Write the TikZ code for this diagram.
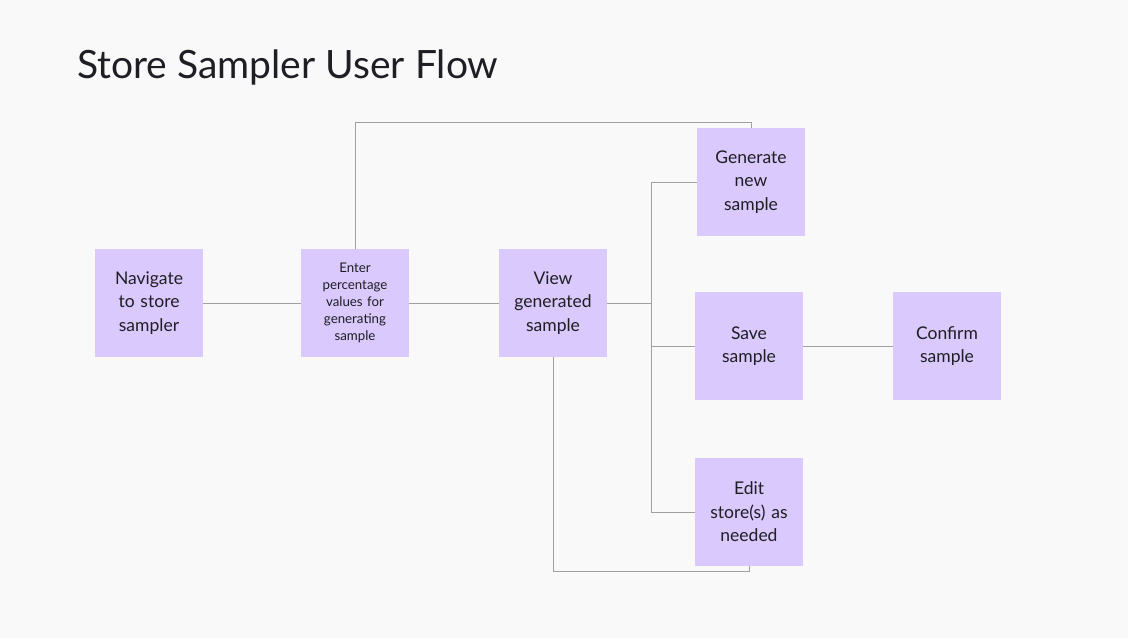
\documentclass[tikz,border=0pt]{standalone}
\usepackage{fontspec}
\setmainfont{Lato}
\definecolor{bgcol}{HTML}{F9F9F9}
\definecolor{boxcol}{HTML}{D9C9FC}
\definecolor{linecol}{HTML}{A0A0A0}
\definecolor{txtcol}{HTML}{1E1E24}

\begin{document}
\begin{tikzpicture}[x=1pt, y=-1pt,
    stepbox/.style={fill=boxcol, minimum width=108pt, minimum height=108pt,
        text width=100pt, align=center, inner sep=0pt, text=txtcol,
        font=\fontsize{17.5}{23.5}\selectfont},
    link/.style={draw=linecol, line width=1pt}]
        % Page and background
        \fill[bgcol] (0,0) rectangle (1128,638);
        \useasboundingbox (0,0) rectangle (1128,638);

        % Title
        \node[anchor=base west, inner sep=0pt, text=txtcol,
            font=\fontsize{39}{42}\selectfont] (title) at (77,78) {Store Sampler User Flow};

        % The steps
        \node[stepbox] (nav) at (149,303) {Navigate\\to store\\sampler};
        \node[stepbox, font=\fontsize{13.3}{17}\selectfont] (enter) at (355,303)
            {Enter\\percentage\\values for\\generating\\sample};
        \node[stepbox] (view) at (553,303) {View\\generated\\sample};
        \node[stepbox] (gen) at (751,182) {Generate\\new\\sample};
        \node[stepbox] (save) at (749,346) {Save\\sample};
        \node[stepbox] (confirm) at (947,346) {Confirm\\sample};
        \node[stepbox] (edit) at (749,512) {Edit\\store(s) as\\needed};

        % Branch point right of the view step
        \coordinate (split) at (651,303);

        % Draw the connectors
        \draw[link] (nav.east) -- (enter.west);
        \draw[link] (enter.east) -- (view.west);
        \draw[link] (view.east) -- (split);
        \draw[link] (split |- gen.west) -- (split |- edit.west);
        \draw[link] (split |- gen.west) -- (gen.west);
        \draw[link] (split |- save.west) -- (save.west);
        \draw[link] (split |- edit.west) -- (edit.west);
        \draw[link] (save.east) -- (confirm.west);

        % Loops back from the enter and view steps
        \draw[link] (enter.north) |- ([yshift=5pt]gen.north) -- (gen.north);
        \draw[link] (view.south) |- ([yshift=-5pt]edit.south) -- (edit.south);
    \end{tikzpicture}
\end{document}
